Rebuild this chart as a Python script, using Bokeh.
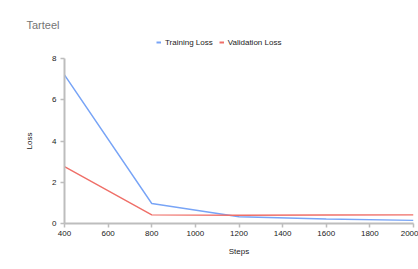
from bokeh.plotting import figure
from bokeh.layouts import column
from bokeh.models import Range1d, FixedTicker, Legend, LegendItem
from bokeh.embed import file_html
from bokeh.resources import INLINE

steps = [400, 800, 1200, 1600, 2000]
training_loss = [7.2, 0.97, 0.33, 0.22, 0.15]
validation_loss = [2.76, 0.42, 0.40, 0.41, 0.42]
x_ticks = [400, 600, 800, 1000, 1200, 1400, 1600, 1800, 2000]
y_ticks = [0, 2, 4, 6, 8]
series_names = ["Training Loss", "Validation Loss"]
series_colors = ["#78a4f6", "#ef6f68"]

FONT = "Liberation Sans"

# header with title and legend (its lines lie outside its own view; only the legend shows)
h = figure(width=418, height=50, output_backend="svg", toolbar_location=None,
           x_range=Range1d(0, 1), y_range=Range1d(0, 1),
           x_axis_location=None, y_axis_location=None,
           min_border_left=64, min_border_right=5, min_border_top=35, min_border_bottom=0)
h.outline_line_color = None
h.xgrid.visible = False
h.ygrid.visible = False
h.title.text = "Tarteel"
h.title.text_font = FONT
h.title.text_font_size = "11px"
h.title.text_color = "#757575"
h.title.text_font_style = "normal"
h.title.offset = -38

keys = [h.line(steps, vals, line_color=c, line_width=2)
        for vals, c in zip([training_loss, validation_loss], series_colors)]
legend = Legend(items=[LegendItem(label=n, renderers=[r]) for n, r in zip(series_names, keys)],
                orientation="horizontal", location=(92, 3),
                label_text_font=FONT, label_text_font_size="8px",
                label_text_color="#222222", glyph_width=5, glyph_height=6,
                label_standoff=4, spacing=6, padding=2, margin=0,
                border_line_color=None, background_fill_alpha=0, label_height=10)
h.add_layout(legend)

# main chart
p = figure(width=418, height=219, output_backend="svg", toolbar_location=None,
           x_range=Range1d(400, 2000), y_range=Range1d(0, 8),
           min_border_left=64, min_border_right=5, min_border_top=8, min_border_bottom=46)
p.outline_line_color = None
p.xgrid.visible = False
p.ygrid.visible = False

p.line(steps, training_loss, line_color=series_colors[0], line_width=1.4)
p.line(steps, validation_loss, line_color=series_colors[1], line_width=1.4)

for ax in (p.xaxis[0], p.yaxis[0]):
    ax.axis_line_color = "#bdbdbd"
    ax.axis_line_width = 2
    ax.major_tick_line_color = "#bdbdbd"
    ax.major_tick_line_width = 1.5
    ax.major_tick_in = 0
    ax.major_tick_out = 4
    ax.minor_tick_line_color = None
    ax.major_label_text_font = FONT
    ax.major_label_text_font_size = "8px"
    ax.major_label_text_color = "#222222"
    ax.axis_label_text_font = FONT
    ax.axis_label_text_font_size = "8px"
    ax.axis_label_text_color = "#222222"
    ax.axis_label_text_font_style = "normal"

p.xaxis[0].ticker = FixedTicker(ticks=x_ticks)
p.yaxis[0].ticker = FixedTicker(ticks=y_ticks)
p.xaxis.axis_label = "Steps"
p.yaxis.axis_label = "Loss"
p.xaxis.axis_label_standoff = 8
p.yaxis.axis_label_standoff = 15
p.xaxis.major_label_standoff = 3
p.yaxis.major_label_standoff = 4

layout = column(h, p, spacing=0)
open("out.html", "w").write(file_html(layout, INLINE))
